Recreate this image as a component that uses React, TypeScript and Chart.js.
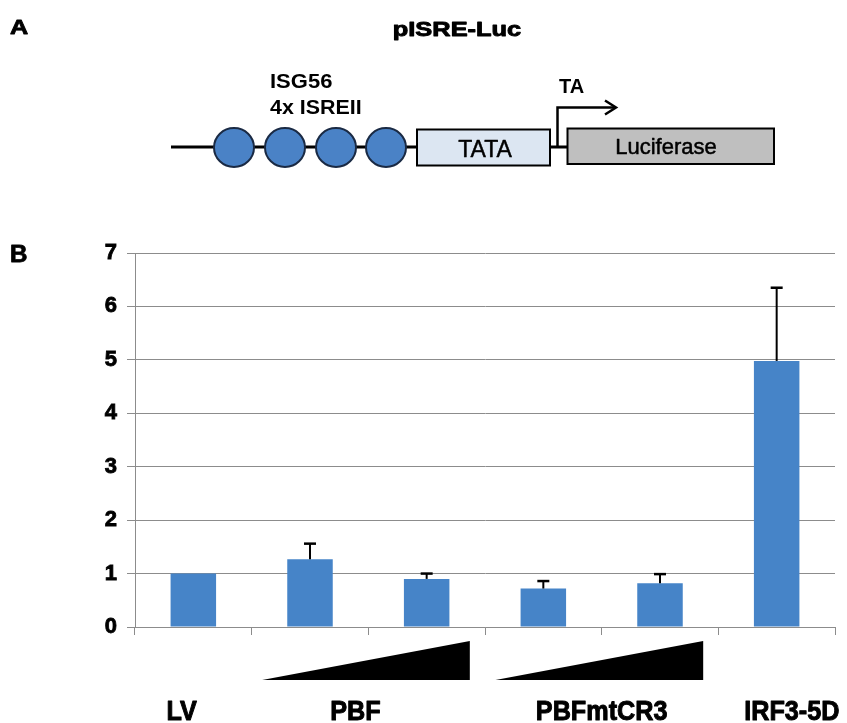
import React, { useEffect, useRef } from 'react';
import { Chart, registerables } from 'chart.js';

Chart.register(...registerables);

// ---- data ----
const categories = ['LV', 'PBF (low)', 'PBF (high)', 'PBFmtCR3 (low)', 'PBFmtCR3 (high)', 'IRF3-5D'];
const values = [1.0, 1.27, 0.9, 0.72, 0.82, 4.98];
const errors = [0, 0.29, 0.1, 0.14, 0.17, 1.37];
const yTickValues = [0, 1, 2, 3, 4, 5, 6, 7];
const groupLabels = ['LV', 'PBF', 'PBFmtCR3', 'IRF3-5D'];
const groupFirst = [0, 1, 3, 5];
const groupLast = [0, 2, 4, 5];
const groupRamp = [false, true, true, false];

// layout-only nudges of the group labels (fraction of a category width)
const labelShift = [-0.1, -0.11, 0, 0.13];

const FONT = '"Liberation Sans", Arial, Helvetica, sans-serif';
const GRID = '#8c8c8c';
const BAR = '#4684c8';

function drawText(
  ctx: CanvasRenderingContext2D,
  text: string,
  x: number,
  y: number,
  font: string,
  sx: number,
  align: CanvasTextAlign,
  stroke = 0
) {
  ctx.save();
  ctx.translate(x, y);
  ctx.scale(sx, 1);
  ctx.font = font;
  ctx.textAlign = align;
  ctx.textBaseline = 'alphabetic';
  ctx.fillStyle = '#000';
  ctx.fillText(text, 0, 0);
  if (stroke > 0) {
    ctx.strokeStyle = '#000';
    ctx.lineWidth = stroke;
    ctx.lineJoin = 'round';
    ctx.strokeText(text, 0, 0);
  }
  ctx.restore();
}

const diagramPlugin = {
  id: 'diagram',
  afterDraw(chart: any) {
    const ctx = chart.ctx as CanvasRenderingContext2D;
    ctx.save();
    // panel letters
    drawText(ctx, 'A', 10, 34, `bold 21px ${FONT}`, 1.2, 'left', 0.8);
    drawText(ctx, 'B', 10, 262, `bold 23px ${FONT}`, 1.05, 'left', 0.8);
    // title
    drawText(ctx, 'pISRE-Luc', 457, 36, `bold 20px ${FONT}`, 1.27, 'center', 0.9);

    // backbone
    ctx.strokeStyle = '#000';
    ctx.lineWidth = 3;
    ctx.beginPath();
    ctx.moveTo(171, 147);
    ctx.lineTo(568, 147);
    ctx.stroke();

    // ISRE ellipses
    const cx = [234, 285, 336, 386];
    ctx.lineWidth = 2;
    for (const x of cx) {
      ctx.beginPath();
      ctx.ellipse(x, 147.5, 20, 19.5, 0, 0, Math.PI * 2);
      ctx.fillStyle = '#4a82c6';
      ctx.fill();
      ctx.strokeStyle = '#1a2a44';
      ctx.stroke();
    }

    // TATA box
    ctx.fillStyle = '#dce6f2';
    ctx.fillRect(417, 129.5, 133, 36);
    ctx.strokeStyle = '#000';
    ctx.lineWidth = 2;
    ctx.strokeRect(417, 129.5, 133, 36);
    drawText(ctx, 'TATA', 485, 156.5, `23px ${FONT}`, 1.0, 'center', 0.5);

    // Luciferase box
    ctx.fillStyle = '#bfbfbf';
    ctx.fillRect(567.5, 128.5, 206.5, 35.5);
    ctx.strokeStyle = '#000';
    ctx.lineWidth = 2;
    ctx.strokeRect(567.5, 128.5, 206.5, 35.5);
    drawText(ctx, 'Luciferase', 666, 154, `22px ${FONT}`, 1.0, 'center', 0.5);

    // TA arrow
    ctx.lineWidth = 2.5;
    ctx.strokeStyle = '#000';
    ctx.beginPath();
    ctx.moveTo(557.5, 147);
    ctx.lineTo(557.5, 107.5);
    ctx.lineTo(615, 107.5);
    ctx.stroke();
    ctx.beginPath();
    ctx.moveTo(605, 100.5);
    ctx.lineTo(616, 107.5);
    ctx.lineTo(605, 114.5);
    ctx.stroke();

    drawText(ctx, 'TA', 559, 93, `bold 20px ${FONT}`, 1.0, 'left');
    drawText(ctx, 'ISG56', 270, 87.5, `bold 20px ${FONT}`, 1.1, 'left');
    drawText(ctx, '4x ISREII', 270, 113.5, `bold 20px ${FONT}`, 1.07, 'left');
    ctx.restore();
  },
};

const errorBarPlugin = {
  id: 'errorBars',
  afterDatasetsDraw(chart: any) {
    const ctx = chart.ctx as CanvasRenderingContext2D;
    const yScale = chart.scales.y;
    const meta = chart.getDatasetMeta(0);
    ctx.save();
    ctx.strokeStyle = '#000';
    meta.data.forEach((bar: any, i: number) => {
      const e = errors[i];
      if (!e) return;
      const yTop = yScale.getPixelForValue(values[i] + e);
      const yBase = yScale.getPixelForValue(values[i]);
      ctx.lineWidth = 2;
      ctx.beginPath();
      ctx.moveTo(bar.x, yBase);
      ctx.lineTo(bar.x, yTop);
      ctx.stroke();
      ctx.lineWidth = 2.5;
      ctx.beginPath();
      ctx.moveTo(bar.x - 6, yTop);
      ctx.lineTo(bar.x + 6, yTop);
      ctx.stroke();
    });
    ctx.restore();
  },
};

const groupPlugin = {
  id: 'groups',
  afterDraw(chart: any) {
    const ctx = chart.ctx as CanvasRenderingContext2D;
    const xs = chart.scales.x;
    const area = chart.chartArea;
    const w = xs.getPixelForValue(1) - xs.getPixelForValue(0);
    ctx.save();
    groupLabels.forEach((label, g) => {
      const a = xs.getPixelForValue(groupFirst[g]);
      const b = xs.getPixelForValue(groupLast[g]);
      if (groupRamp[g]) {
        const left = a - 0.41 * w;
        const right = b + 0.37 * w;
        ctx.fillStyle = '#000';
        ctx.beginPath();
        ctx.moveTo(left, area.bottom + 53);
        ctx.lineTo(right, area.bottom + 53);
        ctx.lineTo(right, area.bottom + 14);
        ctx.closePath();
        ctx.fill();
      }
      const c = (a + b) / 2 + labelShift[g] * w;
      drawText(ctx, label, c, 720, `bold 28px ${FONT}`, 0.9, 'center', 1);
    });
    ctx.restore();
  },
};

export default function App() {
  const ref = useRef<HTMLCanvasElement | null>(null);
  useEffect(() => {
    if (!ref.current) return;
    const chart = new Chart(ref.current, {
      type: 'bar',
      data: {
        labels: categories,
        datasets: [
          {
            data: values,
            backgroundColor: BAR,
            borderWidth: 0,
            barPercentage: 0.39,
            categoryPercentage: 1,
          },
        ],
      },
      options: {
        animation: false,
        responsive: false,
        devicePixelRatio: 1,
        layout: { padding: { top: 253, right: 12, left: 0, bottom: 0 } },
        plugins: {
          legend: { display: false },
          tooltip: { enabled: false },
          title: { display: false },
        },
        scales: {
          x: {
            offset: true,
            grid: { offset: true, drawOnChartArea: false, tickLength: 8, color: GRID, lineWidth: 1 },
            border: { color: GRID, width: 1 },
            ticks: { display: false },
            afterFit: (s: any) => {
              s.height = 96;
            },
          },
          y: {
            min: 0,
            max: 7,
            afterBuildTicks: (s: any) => {
              s.ticks = yTickValues.map((v) => ({ value: v }));
            },
            ticks: {
              stepSize: 1,
              color: '#000',
              padding: 10,
              textStrokeColor: '#000',
              textStrokeWidth: 0.8,
              font: { family: FONT, size: 22, weight: 'bold' },
            },
            grid: { color: GRID, tickLength: 8, lineWidth: 1 },
            border: { color: GRID, width: 1 },
            afterFit: (s: any) => {
              s.width = 135;
            },
          },
        },
      },
      plugins: [diagramPlugin, errorBarPlugin, groupPlugin],
    });
    return () => chart.destroy();
  }, []);
  return (
    <div style={{ position: 'fixed', left: 0, top: 0, width: 847, height: 723, background: '#fff' }}>
      <canvas ref={ref} width={847} height={723} style={{ width: 847, height: 723 }} />
    </div>
  );
}
